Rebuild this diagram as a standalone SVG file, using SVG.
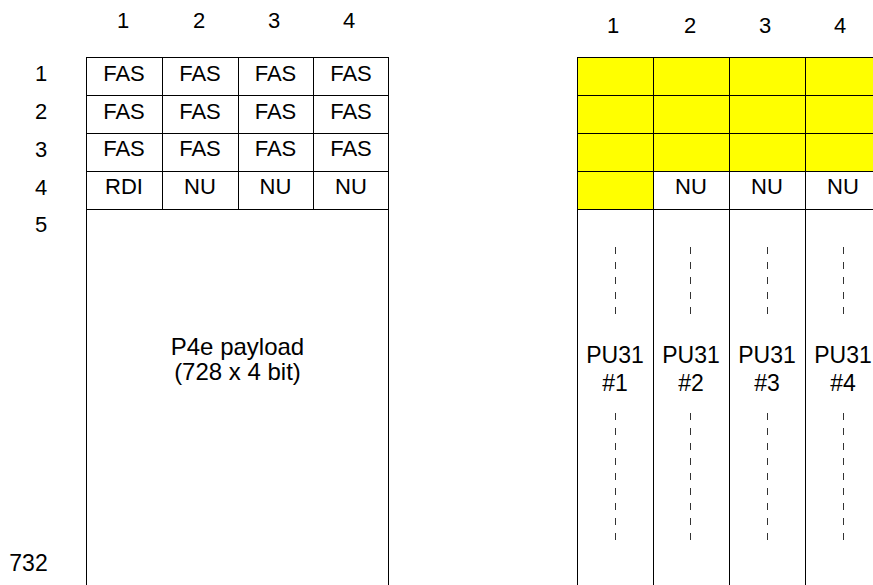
<svg xmlns="http://www.w3.org/2000/svg" width="873" height="585" viewBox="0 0 873 585">
<style>
text{font-family:"Liberation Sans",Arial,sans-serif;font-size:22px;fill:#000;text-anchor:middle}
.big{font-size:23px}
.pay{font-size:24px}
.cell{fill:#fff;stroke:#000;stroke-width:1}
.y{fill:#ffff00;stroke:#000;stroke-width:1}
.grid{stroke:#000;stroke-width:1;fill:none}
.dash{stroke:#333;stroke-width:1;stroke-dasharray:7 8;fill:none}
</style>
<rect width="873" height="585" fill="#fff"/>
<g id="left-headers">
<text x="123" y="28">1</text><text x="199" y="28">2</text><text x="274" y="28">3</text><text x="349" y="28">4</text>
</g>
<g id="row-labels">
<text x="41" y="81">1</text><text x="41" y="119">2</text><text x="41" y="156.5">3</text><text x="41" y="194.5">4</text><text x="41" y="231.5">5</text><text class="big" x="28.5" y="571">732</text>
</g>
<g id="left-frame">
<rect class="cell" x="86.5" y="57.5" width="302" height="540"/>
<path class="grid" d="M86.5 95.5H388.5M86.5 133.5H388.5M86.5 171.5H388.5M86.5 209.5H388.5M162.5 57.5V209.5M238.5 57.5V209.5M313.5 57.5V209.5"/>
</g>
<g id="left-cells">
<text x="124" y="80.5">FAS</text><text x="200" y="80.5">FAS</text><text x="275.5" y="80.5">FAS</text><text x="351" y="80.5">FAS</text>
<text x="124" y="118.5">FAS</text><text x="200" y="118.5">FAS</text><text x="275.5" y="118.5">FAS</text><text x="351" y="118.5">FAS</text>
<text x="124" y="156">FAS</text><text x="200" y="156">FAS</text><text x="275.5" y="156">FAS</text><text x="351" y="156">FAS</text>
<text x="124" y="194">RDI</text><text x="200" y="194">NU</text><text x="275.5" y="194">NU</text><text x="351" y="194">NU</text>
</g>
<g id="payload">
<text class="pay" x="237.5" y="355">P4e payload</text>
<text class="pay" x="237.5" y="380">(728 x 4 bit)</text>
</g>
<g id="right-headers">
<text x="613" y="33">1</text><text x="690" y="33">2</text><text x="765" y="33">3</text><text x="840" y="33">4</text>
</g>
<g id="right-frame">
<rect class="cell" x="577.5" y="57.5" width="304" height="540"/>
<rect class="y" x="577.5" y="57.5" width="304" height="114"/>
<rect class="y" x="577.5" y="171.5" width="76" height="38"/>
<path class="grid" d="M577.5 95.5H881M577.5 133.5H881M577.5 209.5H881M653.5 57.5V597M729.5 57.5V597M805.5 57.5V597"/>
</g>
<g id="right-cells">
<text x="691" y="194">NU</text><text x="767" y="194">NU</text><text x="843" y="194">NU</text>
</g>
<g id="pu31">
<text class="big" x="615" y="363">PU31</text><text class="big" x="615" y="391">#1</text>
<text class="big" x="691" y="363">PU31</text><text class="big" x="691" y="391">#2</text>
<text class="big" x="767" y="363">PU31</text><text class="big" x="767" y="391">#3</text>
<text class="big" x="843" y="363">PU31</text><text class="big" x="843" y="391">#4</text>
</g>
<g id="connectors">
<path class="dash" d="M615.5 247V315M690.5 247V315M767.5 247V315M843.5 247V315"/>
<path class="dash" d="M615.5 413V541M690.5 413V541M767.5 413V541M843.5 413V541"/>
</g>
</svg>
